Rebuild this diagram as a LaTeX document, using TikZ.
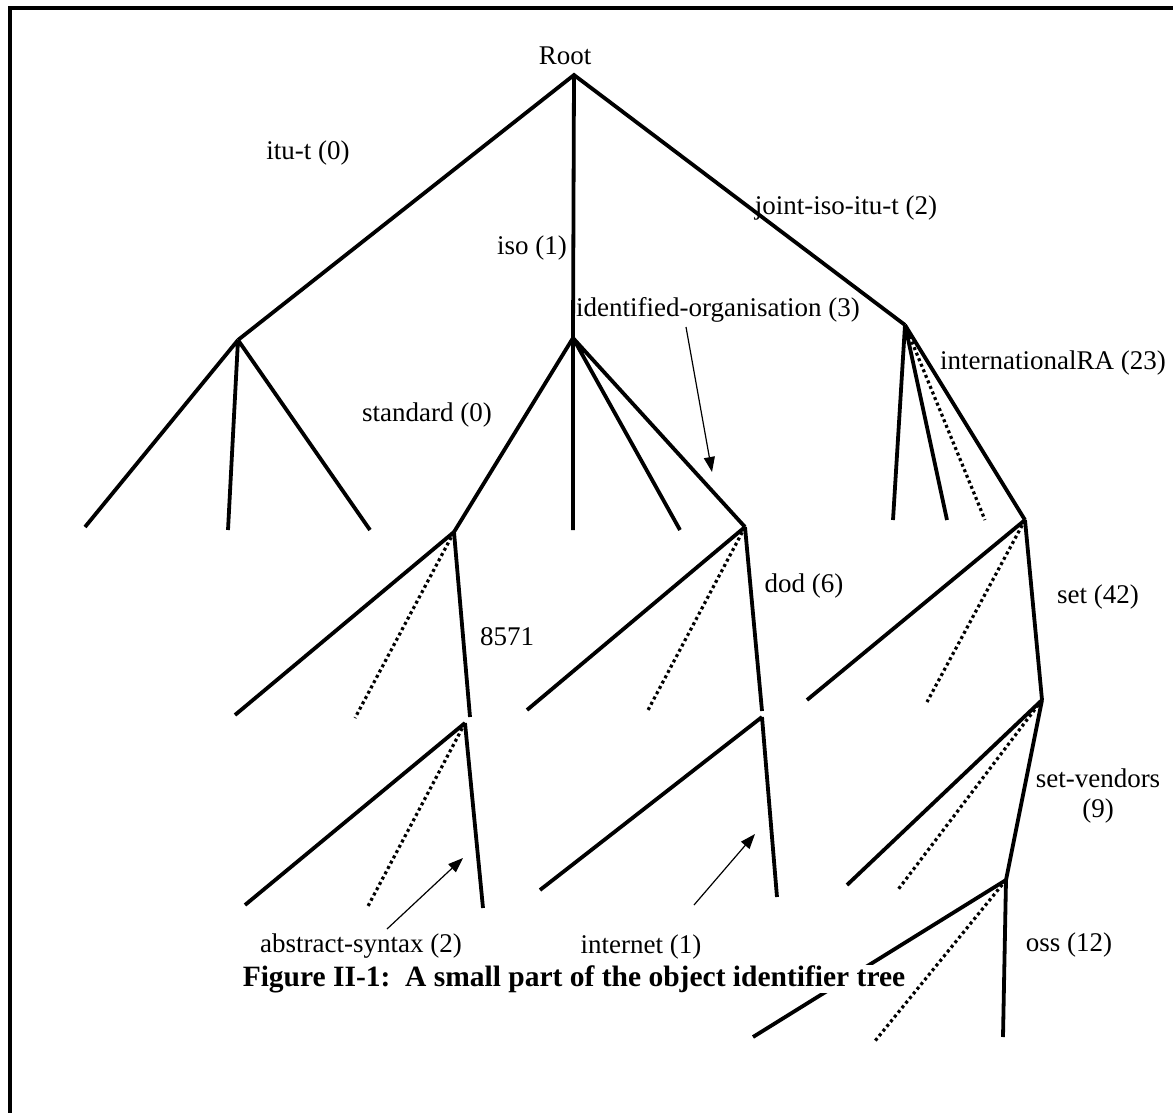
\documentclass[tikz,border=0pt]{standalone}
\usepackage{fontspec}
\setmainfont{Liberation Serif}
\usetikzlibrary{arrows.meta}
\begin{document}
\begin{tikzpicture}[x=1pt,y=-1pt,
  branch/.style={line width=3.8pt},
  hidden/.style={line width=3.2pt, dash pattern=on 3pt off 3pt},
  pointer/.style={line width=1.2pt,-{Triangle[length=15pt,width=11pt]}},
  lbl/.style={font=\fontsize{27}{31}\selectfont, inner sep=0pt},
  caption/.style={font=\fontsize{29.5}{34}\selectfont\bfseries, inner sep=0pt, fill=white}]
\useasboundingbox (0,0) rectangle (1173,1113);
% frame
\draw[line width=3.5pt] (10,1130) -- (10,8) -- (1190,8);

% points of the tree
\coordinate (root) at (574,75);
\coordinate (itut) at (238,340);
\coordinate (iso) at (573,338);
\coordinate (joint) at (905,325);
\coordinate (itu1) at (85,527);
\coordinate (itu2) at (228,530);
\coordinate (itu3) at (370,530);
\coordinate (std) at (454,532);
\coordinate (iso2) at (573,530);
\coordinate (iso3) at (680,530);
\coordinate (idorg) at (745,527);
\coordinate (jt1) at (893,520);
\coordinate (jt2) at (947,520);
\coordinate (jt3) at (985,520);
\coordinate (intra) at (1025,520);
\coordinate (st1) at (235,715);
\coordinate (st2) at (355,718);
\coordinate (n8571) at (470,717);
\coordinate (abs) at (465,723);
\coordinate (ab1) at (245,905);
\coordinate (ab2) at (367,908);
\coordinate (ab3) at (483,908);
\coordinate (io1) at (527,710);
\coordinate (io2) at (647,712);
\coordinate (dod) at (762,711);
\coordinate (net) at (762,717);
\coordinate (nt1) at (540,890);
\coordinate (nt2) at (777,897);
\coordinate (ra1) at (807,700);
\coordinate (ra2) at (927,702);
\coordinate (set) at (1042,700);
\coordinate (se1) at (847,885);
\coordinate (se2) at (897,891);
\coordinate (setv) at (1006,880);
\coordinate (sv1) at (753,1037);
\coordinate (sv2) at (875,1041);
\coordinate (oss) at (1003,1037);

% branches
\draw[branch] (itut) -- (root) -- (joint);
\draw[branch] (root) -- (iso);
\draw[branch] (itut) -- (itu1) (itut) -- (itu2) (itut) -- (itu3);
\draw[branch] (iso) -- (std) (iso) -- (iso2) (iso) -- (iso3) (iso) -- (idorg);
\draw[branch] (joint) -- (jt1) (joint) -- (jt2) (joint) -- (intra);
\draw[hidden] (joint) -- (jt3);
\draw[branch] (std) -- (st1) (std) -- (n8571);
\draw[hidden] (std) -- (st2);
\draw[branch] (abs) -- (ab1) (abs) -- (ab3);
\draw[hidden] (abs) -- (ab2);
\draw[branch] (idorg) -- (io1) (idorg) -- (dod);
\draw[hidden] (idorg) -- (io2);
\draw[branch] (net) -- (nt1) (net) -- (nt2);
\draw[branch] (intra) -- (ra1) (intra) -- (set);
\draw[hidden] (intra) -- (ra2);
\draw[branch] (set) -- (se1) (set) -- (setv);
\draw[hidden] (set) -- (se2);
\draw[branch] (setv) -- (sv1) (setv) -- (oss);
\draw[hidden] (setv) -- (sv2);

% labels
\node[lbl] (lroot) at (565,56) {Root};
\node[lbl] (litut) at (308,153) {itu-t (0)};
\node[lbl] (liso) at (532,248) {iso (1)};
\node[lbl] (ljoint) at (846,208) {joint-iso-itu-t (2)};
\node[lbl] (lidorg) at (718,310) {identified-organisation (3)};
\node[lbl] (lintra) at (1053,363) {internationalRA (23)};
\node[lbl] (lstd) at (427,415) {standard (0)};
\node[lbl] (l8571) at (507,637) {8571};
\node[lbl] (ldod) at (804,586) {dod (6)};
\node[lbl] (lset) at (1098,597) {set (42)};
\node[lbl] (lsetv) at (1098,778) {set-vendors};
\node[lbl] (lsetn) at (1098,811) {(9)};
\node[lbl] (labs) at (361,946) {abstract-syntax (2)};
\node[lbl] (lnet) at (641,947) {internet (1)};
\node[lbl] (loss) at (1069,945) {oss (12)};
\node[caption] (cap) at (574,979) {Figure II-1:\ \ A small part of the object identifier tree};

% pointers from labels to arcs
\coordinate (sidorg) at (686,327);
\coordinate (pidorg) at (712,472);
\coordinate (sabs) at (387,929);
\coordinate (pabs) at (463,858);
\coordinate (snet) at (694,905);
\coordinate (pnet) at (755,834);
\draw[pointer] (sidorg) -- (pidorg);
\draw[pointer] (sabs) -- (pabs);
\draw[pointer] (snet) -- (pnet);
\end{tikzpicture}
\end{document}
